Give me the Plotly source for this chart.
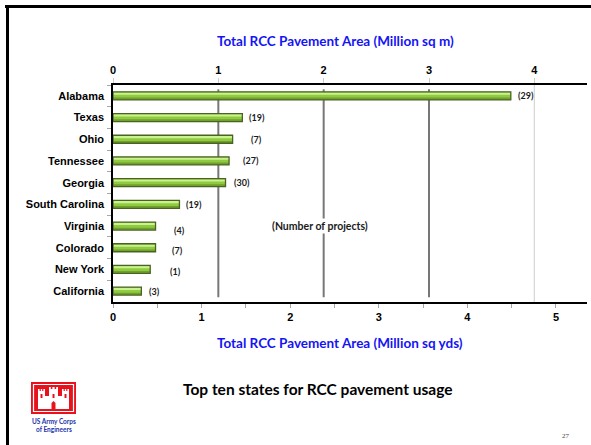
import plotly.graph_objects as go

# ---- data -------------------------------------------------------------
states = ["Alabama", "Texas", "Ohio", "Tennessee", "Georgia",
          "South Carolina", "Virginia", "Colorado", "New York", "California"]
area_sq_yd = [4.49, 1.46, 1.35, 1.31, 1.27, 0.75, 0.48, 0.48, 0.42, 0.32]
projects = [29, 19, 7, 27, 30, 19, 4, 7, 1, 3]
yd_ticks = [0, 1, 2, 3, 4, 5]
m_ticks = [0, 1, 2, 3, 4]
m_guides_dark = [1, 2, 3]
m_guides_light = [4]

# label nudges (pixels) for the project counts
label_dx = [5, 5, 16, 12, 6, 5, 16, 14, 18, 6]
label_dy = [0, 0, 0, 0, 0, 0, -4, -3, -2, 0]

# ---- page geometry ----------------------------------------------------
W, H = 591, 445
ML, MR, MT, MB = 113, 4, 85, 143
PW = W - ML - MR
PH = H - MT - MB


def px(x):
    return (x - ML) / PW


def py(y):
    return (MT + PH - y) / PH


def path(points):
    pts = [f"{px(x):.5f},{py(y):.5f}" for x, y in points]
    return "M" + " L".join(pts) + " Z"


def note(x, y, text, **font):
    return dict(x=px(x), y=py(y), xref="paper", yref="paper", text=text,
                showarrow=False, xanchor="center", yanchor="middle", font=font)


bold = "bold"
axis_font = dict(family="Liberation Sans, Arial", size=11, color="black", weight=bold)
blue = "#1414f5"

fig = go.Figure()

# bar body, highlight, shade and outline
fig.add_bar(y=states, x=area_sq_yd, orientation="h", width=0.37,
            marker=dict(color="#8fcb3f", line=dict(width=0)), hoverinfo="skip")
fig.add_bar(y=states, x=area_sq_yd, orientation="h", width=0.1, offset=-0.15,
            marker=dict(color="#cbf290", line=dict(width=0)), hoverinfo="skip")
fig.add_bar(y=states, x=area_sq_yd, orientation="h", width=0.1, offset=0.075,
            marker=dict(color="#71a02f", line=dict(width=0)), hoverinfo="skip")
fig.add_bar(y=states, x=area_sq_yd, orientation="h", width=0.37,
            marker=dict(color="rgba(0,0,0,0)", line=dict(color="#4b6322", width=1.3)),
            hoverinfo="skip")
# anchor trace for the metric (top) axis
fig.add_scatter(x=[0], y=[states[0]], xaxis="x2", mode="none", hoverinfo="skip")

annotations = []
for s, v, n, dx, dy in zip(states, area_sq_yd, projects, label_dx, label_dy):
    annotations.append(dict(x=v, y=s, xref="x", yref="y", text=f"({n})",
                            showarrow=False, xanchor="left", yanchor="middle",
                            xshift=dx, yshift=dy,
                            font=dict(family="Lato", size=9, color="#1a1a1a", weight=bold)))

annotations += [
    note(335, 41, "Total RCC Pavement Area (Million sq m)",
         family="Lato", size=13.5, color=blue, weight=bold),
    note(340, 343, "Total RCC Pavement Area (Million sq yds)",
         family="Lato", size=13.5, color=blue, weight=bold),
    note(317, 389, "Top ten states for RCC pavement usage",
         family="Lato", size=15.5, color="black", weight=bold),
    note(54, 421.5, "US Army Corps",
         family="Lato", size=6.5, color="#2233aa", weight=bold),
    note(54, 429, "of Engineers",
         family="Lato", size=6.5, color="#2233aa", weight=bold),
    note(566, 436, "27", family="Liberation Serif", size=7, color="#444444"),
]
box = note(320, 226, "(Number of projects)",
           family="Lato", size=10.5, color="#1a1a1a", weight=bold)
box.update(bgcolor="white", borderpad=1)
annotations.append(box)

shapes = []
# guide lines at whole square metres
for g in m_guides_dark:
    shapes.append(dict(type="line", xref="x2", yref="paper", x0=g, x1=g,
                       y0=0.022, y1=0.98, line=dict(color="#777777", width=2),
                       layer="below"))
for g in m_guides_light:
    shapes.append(dict(type="line", xref="x2", yref="paper", x0=g, x1=g,
                       y0=0, y1=1, line=dict(color="#d6d6d6", width=1.2),
                       layer="below"))
# slide frame
shapes.append(dict(type="line", xref="paper", yref="paper",
                   x0=px(5), x1=px(W + 2), y0=py(6.5), y1=py(6.5),
                   line=dict(color="black", width=3)))
shapes.append(dict(type="line", xref="paper", yref="paper",
                   x0=px(7.5), x1=px(7.5), y0=py(5), y1=py(H + 2),
                   line=dict(color="black", width=3)))

# castle emblem
shapes.append(dict(type="rect", xref="paper", yref="paper",
                   x0=px(31), x1=px(76), y0=py(414), y1=py(382),
                   fillcolor="#e8121c", line=dict(width=0)))
shapes.append(dict(type="rect", xref="paper", yref="paper",
                   x0=px(33.5), x1=px(73.5), y0=py(411.5), y1=py(384.5),
                   fillcolor="rgba(0,0,0,0)", line=dict(color="white", width=1.2)))
castle = [(38, 409), (38, 389), (39.6, 389), (39.6, 391), (40.8, 391), (40.8, 389),
          (42.2, 389), (42.2, 391), (43.4, 391), (43.4, 389), (45, 389), (45, 396),
          (49, 396), (49, 387), (50.8, 387), (50.8, 389), (52.4, 389), (52.4, 387),
          (54.6, 387), (54.6, 389), (56.2, 389), (56.2, 387), (58, 387), (58, 396),
          (62, 396), (62, 389), (63.6, 389), (63.6, 391), (64.8, 391), (64.8, 389),
          (66.2, 389), (66.2, 391), (67.4, 391), (67.4, 389), (69, 389), (69, 409)]
shapes.append(dict(type="path", xref="paper", yref="paper", path=path(castle),
                   fillcolor="white", line=dict(width=0)))
shapes.append(dict(type="path", xref="paper", yref="paper",
                   path=path([(51.5, 409), (51.5, 403), (53.5, 401), (55.5, 403), (55.5, 409)]),
                   fillcolor="#e8121c", line=dict(width=0)))
for wx in (40.5, 64.5, 52.5):
    shapes.append(dict(type="rect", xref="paper", yref="paper",
                       x0=px(wx), x1=px(wx + 2), y0=py(398), y1=py(394),
                       fillcolor="#e8121c", line=dict(width=0)))

fig.update_layout(
    width=W, height=H,
    margin=dict(l=ML, r=MR, t=MT, b=MB),
    paper_bgcolor="white", plot_bgcolor="white",
    barmode="overlay", showlegend=False,
    xaxis=dict(range=[0, 5.35], tickvals=yd_ticks, ticks="outside", ticklen=4,
               tickcolor="#a6a6a6", showline=True, linecolor="black", linewidth=1.5,
               showgrid=False, zeroline=False, tickfont=axis_font,
               minor=dict(dtick=0.5, ticks="outside", ticklen=4, tickcolor="#a6a6a6",
                          showgrid=False)),
    xaxis2=dict(range=[0, 4.5], overlaying="x", side="top", anchor="y",
                tickvals=m_ticks, ticks="outside", ticklen=5, tickcolor="#cccccc",
                showline=True, linecolor="black", linewidth=1.5,
                showgrid=False, zeroline=False, tickfont=axis_font),
    yaxis=dict(categoryorder="array", categoryarray=states, range=[9.5, -0.5],
               ticks="outside", tickson="boundaries", ticklen=4, tickcolor="#a6a6a6",
               showline=True, linecolor="black", linewidth=1.5, showgrid=False,
               tickfont=axis_font, ticklabelstandoff=5),
    annotations=annotations,
    shapes=shapes,
)

fig.write_html("out.html")
